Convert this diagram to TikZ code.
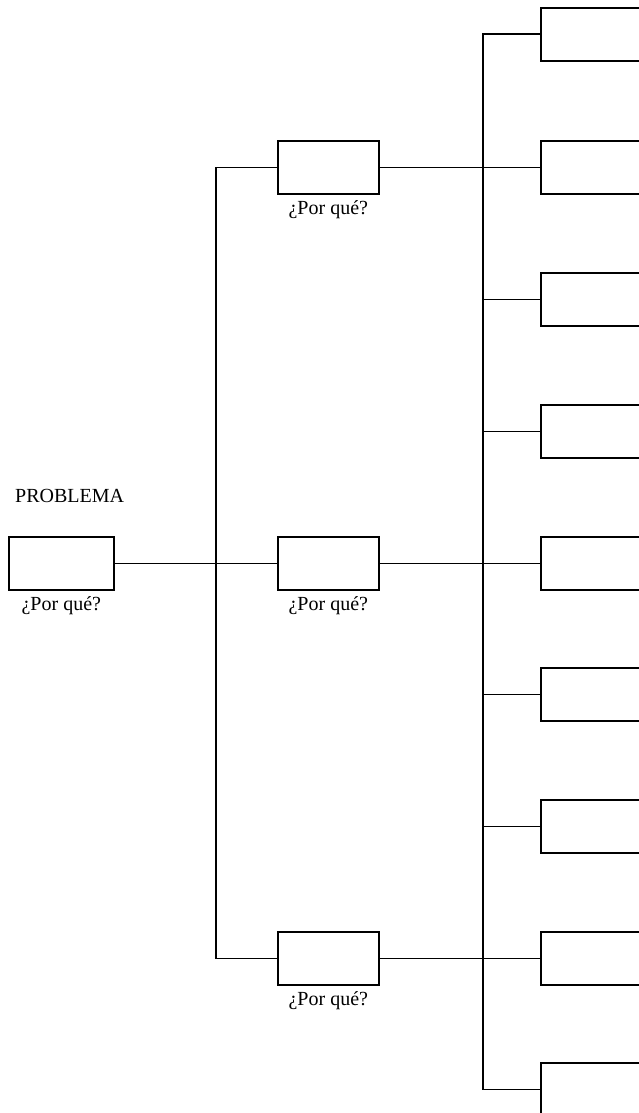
\documentclass[tikz,border=0pt]{standalone}
\usepackage{fontspec}
\setmainfont{Liberation Serif}
\begin{document}
\begin{tikzpicture}[x=1pt,y=-1pt,
  box/.style={draw=black, line width=1.6pt, rectangle, anchor=north west, minimum height=53pt, inner sep=0pt},
  pbox/.style={box, minimum width=105pt},
  mbox/.style={box, minimum width=101pt},
  rbox/.style={box, minimum width=130pt},
  wire/.style={draw=black, line width=1.6pt},
  lbl/.style={font=\fontsize{20}{22}\selectfont, inner sep=0pt}]
\useasboundingbox (0,0) rectangle (639,1113);
\clip (0,0) rectangle (639,1113);
\fill[white] (0,0) rectangle (639,1113);
% problem
\node[lbl, anchor=west] (ptitle) at (15,496) {PROBLEMA};
\node[pbox] (p) at (8,536) {};
\node[lbl, anchor=north] (plbl) at ([yshift=-6pt]p.south) {¿Por qué?};
% middle
\node[mbox] (m1) at (277,140) {};
\node[mbox] (m2) at (277,536) {};
\node[mbox] (m3) at (277,931) {};
\node[lbl, anchor=north] (m1l) at ([yshift=-6pt]m1.south) {¿Por qué?};
\node[lbl, anchor=north] (m2l) at ([yshift=-6pt]m2.south) {¿Por qué?};
\node[lbl, anchor=north] (m3l) at ([yshift=-6pt]m3.south) {¿Por qué?};
% right
\node[rbox] (r1) at (540,7) {};
\node[rbox] (r2) at (540,140) {};
\node[rbox] (r3) at (540,272) {};
\node[rbox] (r4) at (540,404) {};
\node[rbox] (r5) at (540,536) {};
\node[rbox] (r6) at (540,667) {};
\node[rbox] (r7) at (540,799) {};
\node[rbox] (r8) at (540,931) {};
\node[rbox] (r9) at (540,1062) {};
\coordinate (tL) at (216,562);
\coordinate (tR) at (483,562);
% connectors
\draw[wire] (p.east) -- (m2.west);
\draw[wire] (m1.west) -| (tL) |- (m3.west);
\draw[wire] (r1.west) -| (tR) |- (r9.west);
\draw[wire] (m1.east) -- (r2.west);
\draw[wire] (m2.east) -- (r5.west);
\draw[wire] (m3.east) -- (r8.west);
\draw[wire] (r3.west) -- (r3.west -| tR);
\draw[wire] (r4.west) -- (r4.west -| tR);
\draw[wire] (r6.west) -- (r6.west -| tR);
\draw[wire] (r7.west) -- (r7.west -| tR);
\end{tikzpicture}
\end{document}
